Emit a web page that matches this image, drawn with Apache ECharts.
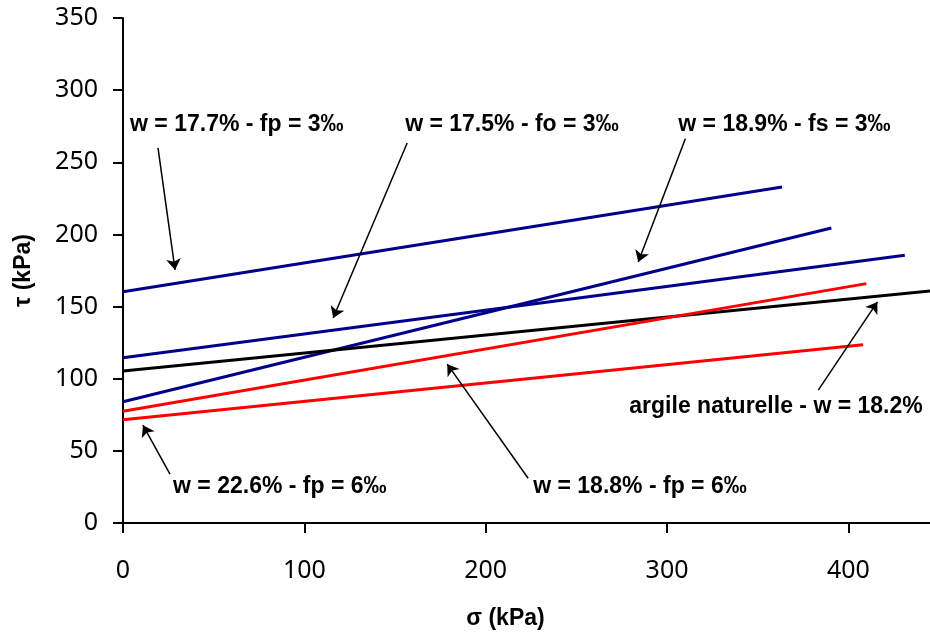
<!DOCTYPE html>
<html>
<head>
<meta charset="utf-8">
<script src="https://cdn.jsdelivr.net/npm/echarts@6/dist/echarts.min.js"></script>
<style>
html,body{margin:0;padding:0;background:#fff;}
#chart{width:930px;height:637px;}
</style>
</head>
<body>
<div id="chart"></div>
<script>
// ---- Data (sigma in kPa, tau in kPa) ----
const xTicks = [0, 100, 200, 300, 400];
const yTicks = [0, 50, 100, 150, 200, 250, 300, 350];

const w177_fp3 = [[0, 160.3], [363.4, 232.8]];      // w = 17.7% - fp = 3‰
const w175_fo3 = [[0, 114.5], [431.1, 185.6]];      // w = 17.5% - fo = 3‰
const w189_fs3 = [[0, 84.0], [390.6, 204.5]];       // w = 18.9% - fs = 3‰
const argile   = [[0, 105.3], [445, 160.8]];        // argile naturelle - w = 18.2%
const w188_fp6 = [[0, 77.5], [409.9, 165.9]];       // w = 18.8% - fp = 6‰
const w226_fp6 = [[0, 71.5], [408.1, 123.5]];       // w = 22.6% - fp = 6‰

// annotation texts, anchored in data coordinates
const annoTexts = [
  'w = 17.7% - fp = 3‰',
  'w = 17.5% - fo = 3‰',
  'w = 18.9% - fs = 3‰',
  'w = 22.6% - fp = 6‰',
  'w = 18.8% - fp = 6‰',
  'argile naturelle - w = 18.2%'
];
const annoAnchors = [[3.9, 276], [155.6, 276], [306.2, 276], [27.6, 25.5], [226.2, 25.5], [279.2, 80.3]];
const arrowFrom = [[19.3, 260.0], [156.7, 263.4], [310.1, 266.3], [25.9, 33.8], [223.4, 31.0], [383.4, 92.1]];
const arrowTo   = [[28.7, 175.4], [115.9, 142.1], [284.1, 180.9], [11.0, 67.8], [178.8, 110.1], [416.0, 153.2]];

const BLUE = '#00008B', RED = '#FF0000', BLACK = '#000000';

function lineSeries(name, data, color) {
  return {
    name: name, type: 'line', data: data, showSymbol: false, symbol: 'none',
    lineStyle: { color: color, width: 3 }, itemStyle: { color: color },
    silent: true, animation: false, z: 3
  };
}

const chart = echarts.init(document.getElementById('chart'), null, { renderer: 'canvas' });

const option = {
  animation: false,
  backgroundColor: '#fff',
  grid: { left: 123, right: 0, top: 18, bottom: 114, containLabel: false },
  xAxis: {
    type: 'value', min: 0, max: 445, interval: 100,
    name: 'σ (kPa)', nameLocation: 'middle', nameGap: 84,
    nameTextStyle: { fontFamily: 'Liberation Sans', fontWeight: 'bold', fontSize: 23, color: '#000', padding: [0, 42, 0, 0] },
    axisLine: { show: true, lineStyle: { color: '#000', width: 2 } },
    axisTick: { show: true, inside: false, length: 10, customValues: xTicks, lineStyle: { color: '#000', width: 2 } },
    axisLabel: { customValues: xTicks, margin: 35, fontFamily: 'Noto Sans', fontSize: 25, color: '#000' },
    splitLine: { show: false }
  },
  yAxis: {
    type: 'value', min: 0, max: 350, interval: 50,
    name: 'τ (kPa)', nameLocation: 'middle', nameGap: 88, nameRotate: 90,
    nameTextStyle: { fontFamily: 'Liberation Sans', fontWeight: 'bold', fontSize: 23, color: '#000' },
    axisLine: { show: true, lineStyle: { color: '#000', width: 2 } },
    axisTick: { show: true, inside: false, length: 10, customValues: yTicks, lineStyle: { color: '#000', width: 2 } },
    axisLabel: { customValues: yTicks, margin: 25, fontFamily: 'Noto Sans', fontSize: 25, color: '#000' },
    splitLine: { show: false }
  },
  series: [
    lineSeries('w = 17.7% - fp = 3‰', w177_fp3, BLUE),
    lineSeries('w = 17.5% - fo = 3‰', w175_fo3, BLUE),
    lineSeries('w = 18.9% - fs = 3‰', w189_fs3, BLUE),
    lineSeries('argile naturelle - w = 18.2%', argile, BLACK),
    lineSeries('w = 18.8% - fp = 6‰', w188_fp6, RED),
    lineSeries('w = 22.6% - fp = 6‰', w226_fp6, RED),
    {
      name: 'annotations', type: 'scatter', symbolSize: 0, silent: true, animation: false,
      itemStyle: { color: '#000', opacity: 1 },
      data: annoAnchors.map((p, i) => ({ value: p, text: annoTexts[i] })),
      label: {
        show: true, position: [0, 0], align: 'left', verticalAlign: 'middle',
        fontFamily: 'Liberation Sans', fontWeight: 'bold', fontSize: 23, color: '#000', opacity: 1,
        formatter: (p) => p.data.text
      },
      markLine: {
        silent: true, animation: false,
        symbol: ['none', 'arrow'], symbolSize: 11,
        label: { show: false },
        itemStyle: { color: '#000' },
        lineStyle: { color: '#000', width: 1.5, type: 'solid', opacity: 1 },
        emphasis: { disabled: true },
        data: arrowFrom.map((f, i) => [{ coord: f }, { coord: arrowTo[i] }])
      },
      z: 5
    }
  ]
};
chart.setOption(option);
</script>
</body>
</html>
